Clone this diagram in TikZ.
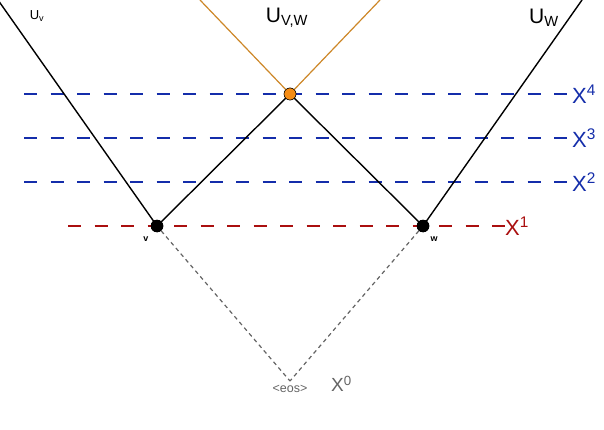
\documentclass[tikz,border=0pt]{standalone}
\usepackage{fontspec}
\setmainfont{Liberation Sans}
\definecolor{xblue}{RGB}{20,45,170}
\definecolor{xred}{RGB}{170,15,15}
\definecolor{oline}{RGB}{205,135,40}
\definecolor{ofill}{RGB}{245,140,20}
\definecolor{xgrey}{RGB}{100,100,100}
\begin{document}
\begin{tikzpicture}[x=1pt,y=-1pt,
  solid line/.style={draw=black,line width=1.4pt},
  orange line/.style={draw=oline,line width=1.2pt},
  blue dash/.style={draw=xblue,line width=1.9pt,dash pattern=on 13pt off 13.5pt},
  red dash/.style={draw=xred,line width=1.9pt,dash pattern=on 13pt off 13.5pt},
  grey dash/.style={draw=xgrey,line width=1.2pt,dash pattern=on 4pt off 3.5pt},
  dot/.style={circle,fill=black,inner sep=0pt,minimum size=12.5pt},
  odot/.style={circle,fill=ofill,draw=black,line width=0.5pt,inner sep=0pt,minimum size=12pt},
  biglabel/.style={font=\fontsize{21}{24}\selectfont,inner sep=0pt},
  xlabel/.style={font=\fontsize{22}{24}\selectfont,inner sep=0pt,anchor=west},
  small/.style={font=\bfseries\fontsize{9}{10}\selectfont,inner sep=0pt}]
\useasboundingbox (0,0) rectangle (604,430);
% free ends
\coordinate (tl) at (-2,0);
\coordinate (tr) at (582,0);
\coordinate (ol) at (200,0);
\coordinate (or) at (380,0);
\coordinate (b4) at (24,94);
\coordinate (b3) at (24,138);
\coordinate (b2) at (24,182);
\coordinate (r1) at (68,226);
% labels
\node[xlabel,text=xblue] (x4) at (572,94) {X\textsuperscript{4}};
\node[xlabel,text=xblue] (x3) at (572,138) {X\textsuperscript{3}};
\node[xlabel,text=xblue] (x2) at (572,182) {X\textsuperscript{2}};
\node[xlabel,text=xred] (x1) at (505,226) {X\textsuperscript{1}};
\node[xlabel,text=xgrey,font=\fontsize{19}{22}\selectfont] (x0) at (331,384) {X\textsuperscript{0}};
\node[inner sep=0pt,font=\fontsize{13}{15}\selectfont] (uv) at (37,16) {U\textsubscript{v}};
\node[biglabel] (uvw) at (287,18) {U\textsubscript{V,W}};
\node[biglabel] (uw) at (544,18) {U\textsubscript{W}};
\node[inner sep=0pt,text=xgrey,font=\fontsize{12.5}{14}\selectfont] (eos) at (290,389) {<eos>};
\coordinate (eostop) at (290,381);
% dashed levels
\draw[blue dash] (b4) -- (x4.west);
\draw[blue dash] (b3) -- (x3.west);
\draw[blue dash] (b2) -- (x2.west);
\draw[red dash] (r1) -- (x1.west);
% nodes
\node[dot] (v) at (157,226) {};
\node[dot] (w) at (423,226) {};
\node[odot] (o) at (290,94) {};
\node[small] (vl) at (146,239) {v};
\node[small] (wl) at (434,239) {w};
% grey to eos
\draw[grey dash] (v) -- (eostop);
\draw[grey dash] (w) -- (eostop);
% solid lines
\draw[solid line] (tl) -- (v.center);
\draw[solid line] (v.center) -- (o.center);
\draw[solid line] (o.center) -- (w.center);
\draw[solid line] (w.center) -- (tr);
\draw[orange line] (ol) -- (o.center);
\draw[orange line] (or) -- (o.center);
% redraw dots on top
\node[dot] at (v) {};
\node[dot] at (w) {};
\node[odot] at (o) {};
\end{tikzpicture}
\end{document}
